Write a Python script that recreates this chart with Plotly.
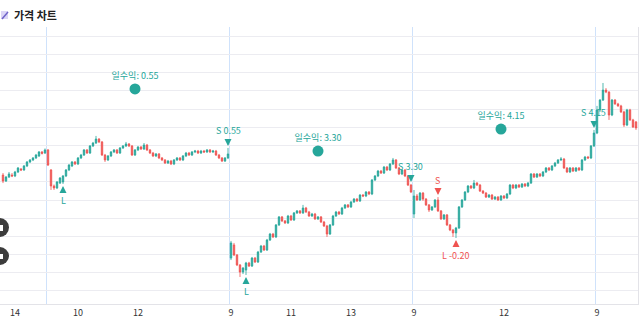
import plotly.graph_objects as go

# ---- price data (6-minute bars, five trading sessions) ----
session_bars = [15, 61, 61, 61, 14]
session_first_minute = [13 * 60 + 36, 9 * 60, 9 * 60, 9 * 60, 9 * 60]
bar_minutes = 6
tick_hours = [[14], [10, 12], [9, 11, 13], [9, 12], [9]]

opens = [
    73.7, 70.4, 72.6, 73.7, 73.2, 75.4, 77.0, 76.5, 78.7, 80.9, 82.0, 83.1, 84.2, 86.4, 85.8,
    87.5, 76.5, 67.7, 66.6, 69.3, 69.9, 73.2, 76.5, 78.7, 80.9,
    79.8, 83.1, 84.7, 87.5, 85.8, 89.7, 91.3, 93.5, 91.9, 84.7,
    82.0, 84.2, 86.4, 87.5, 85.8, 88.6, 89.7, 90.8, 89.7, 84.7,
    87.5, 89.1, 88.0, 90.2, 87.5, 85.8, 84.2, 85.3, 83.1, 82.0,
    80.3, 81.4, 79.8, 82.0, 83.1, 82.0, 84.2, 85.8, 84.7, 86.4,
    86.9, 85.8, 86.9, 86.4, 87.5, 86.4, 86.9, 84.7, 83.1, 81.4,
    83.1,
    28.1, 35.3, 29.8, 24.3, 20.4, 21.5, 25.4, 23.7, 28.1, 25.9,
    31.4, 34.7, 32.5, 38.0, 41.3, 39.7, 46.3, 50.7, 48.5, 47.4,
    51.2, 49.0, 52.9, 54.0, 52.9, 55.6, 53.4, 51.2, 52.3, 49.6,
    50.7, 47.9, 45.7, 41.3, 46.3, 51.2, 53.4, 52.3, 55.6, 57.3,
    56.2, 58.9, 60.5, 59.5, 62.7, 62.2, 64.4, 63.3, 71.0, 73.2,
    75.9, 74.8, 78.1, 76.5, 79.8, 82.0, 77.6, 74.3, 76.5, 73.2,
    68.2,
    52.3, 62.2, 60.0, 63.8, 60.5, 57.3, 54.5, 56.2, 60.0, 54.0,
    49.6, 51.8, 46.3, 43.5, 41.9, 44.6, 56.2, 60.0, 64.4, 67.7,
    66.6, 69.3, 68.2, 64.9, 63.8, 61.6, 62.7, 60.5, 61.6, 60.0,
    62.2, 61.1, 63.3, 68.2, 66.6, 68.2, 67.1, 68.8, 67.7, 69.3,
    74.3, 72.6, 74.3, 73.2, 75.4, 77.6, 76.5, 78.7, 80.3, 82.0,
    82.5, 77.6, 75.4, 77.6, 75.9, 77.6, 76.5, 82.0, 83.6, 83.1,
    89.7,
    96.8, 109.5, 114.9, 120.4, 119.3, 106.7, 114.9, 112.8, 111.7, 108.4, 101.2, 109.5, 104.0, 102.9,
]

highs = [
    74.8, 73.2, 75.4, 74.8, 76.0, 78.1, 77.6, 79.2, 81.4, 82.5, 83.6, 85.3, 86.9, 86.9, 88.3,
    88.0, 77.0, 68.5, 70.4, 72.6, 73.7, 77.0, 79.8, 81.4, 81.4,
    83.6, 85.3, 88.0, 88.0, 90.2, 91.9, 95.2, 94.0, 92.4, 85.3,
    84.7, 86.9, 88.0, 88.0, 89.1, 90.2, 91.9, 91.3, 90.2, 88.0,
    89.7, 89.7, 91.3, 90.8, 88.0, 86.4, 85.8, 85.8, 83.6, 82.5,
    82.0, 82.0, 82.5, 83.6, 83.6, 84.7, 86.4, 86.4, 86.9, 87.5,
    87.5, 87.5, 87.5, 88.0, 88.0, 87.5, 87.5, 85.3, 83.6, 83.6,
    88.6,
    37.5, 36.4, 30.3, 24.8, 23.2, 26.0, 26.0, 28.7, 28.7, 32.0,
    35.3, 35.3, 38.6, 41.9, 41.9, 46.8, 51.2, 51.2, 49.0, 51.8,
    51.8, 53.4, 54.5, 54.5, 57.3, 56.2, 54.0, 52.9, 52.9, 51.2,
    51.2, 48.5, 46.3, 46.8, 51.8, 54.0, 54.0, 56.2, 57.8, 57.8,
    59.5, 61.1, 61.1, 63.3, 63.3, 64.9, 64.9, 71.5, 73.7, 76.5,
    76.5, 78.7, 78.7, 80.3, 83.1, 82.5, 78.1, 77.0, 77.0, 73.7,
    68.8,
    65.5, 63.3, 64.4, 64.4, 61.1, 57.8, 56.7, 60.5, 61.6, 54.5,
    52.3, 52.3, 46.8, 44.1, 45.2, 56.7, 60.5, 64.9, 68.2, 68.2,
    71.0, 69.9, 68.8, 65.5, 64.4, 63.3, 63.3, 62.2, 62.2, 62.7,
    62.7, 63.8, 68.8, 68.8, 68.8, 68.8, 69.3, 69.3, 69.9, 74.8,
    74.8, 74.8, 74.8, 75.9, 78.1, 78.1, 79.2, 80.9, 82.5, 83.6,
    83.1, 78.1, 78.1, 78.1, 78.1, 78.1, 82.5, 84.2, 84.2, 90.2,
    98.5,
    111.7, 115.5, 124.3, 121.5, 119.8, 115.5, 115.5, 113.4, 112.3, 109.0, 110.1, 110.1, 104.6, 103.4,
]

lows = [
    69.3, 69.9, 72.1, 72.6, 72.6, 74.8, 75.9, 76.0, 78.1, 80.3, 81.4, 82.5, 83.6, 85.0, 85.3,
    78.7, 65.5, 65.5, 66.0, 68.8, 68.8, 72.6, 75.9, 78.1, 79.2,
    79.2, 82.5, 84.2, 85.3, 85.3, 89.1, 90.8, 91.3, 84.2, 80.9,
    81.4, 83.6, 85.8, 85.3, 85.3, 88.0, 89.1, 89.1, 84.2, 84.2,
    86.9, 87.5, 87.5, 86.9, 85.3, 83.6, 83.6, 82.5, 81.4, 79.8,
    79.8, 79.2, 79.2, 81.4, 81.4, 81.4, 83.6, 84.2, 84.2, 85.8,
    85.3, 85.3, 85.8, 85.8, 85.8, 85.8, 84.2, 82.5, 80.9, 80.9,
    82.5,
    27.0, 29.2, 23.7, 17.7, 19.3, 18.8, 23.2, 23.2, 25.4, 25.4,
    30.9, 32.0, 32.0, 37.5, 39.1, 39.1, 45.7, 47.9, 46.8, 46.8,
    48.5, 48.5, 52.3, 52.3, 52.3, 52.9, 50.7, 50.7, 49.0, 49.0,
    47.4, 45.2, 39.7, 40.8, 45.7, 50.7, 51.8, 51.8, 55.1, 55.6,
    55.6, 58.4, 58.9, 58.9, 61.6, 61.6, 62.7, 62.7, 70.4, 72.6,
    74.3, 74.3, 75.9, 75.9, 79.2, 77.0, 73.7, 73.7, 72.6, 67.7,
    63.8,
    50.1, 59.5, 59.5, 59.5, 56.7, 53.4, 54.0, 55.6, 53.4, 49.0,
    49.0, 45.7, 42.9, 39.7, 39.1, 44.1, 55.6, 59.5, 63.8, 66.0,
    66.0, 67.7, 64.4, 63.3, 61.1, 61.1, 60.0, 60.0, 59.5, 59.5,
    60.5, 60.5, 62.7, 66.0, 66.0, 66.6, 66.6, 67.1, 67.1, 68.8,
    72.1, 72.1, 72.6, 72.6, 74.8, 75.9, 75.9, 78.1, 79.8, 81.4,
    77.0, 74.8, 74.8, 75.4, 75.4, 75.9, 75.9, 81.4, 82.5, 82.5,
    89.1,
    96.2, 108.4, 114.4, 118.7, 104.0, 106.1, 112.3, 111.2, 107.8, 100.1, 100.6, 103.4, 99.6, 98.5,
]

closes = [
    70.4, 72.6, 74.3, 73.2, 75.4, 77.6, 76.5, 78.7, 80.9, 82.0, 83.1, 84.7, 86.4, 85.6, 87.5,
    79.2, 67.7, 66.6, 69.9, 72.1, 73.2, 76.5, 79.2, 80.9, 79.8,
    83.1, 84.7, 87.5, 85.8, 89.7, 91.3, 93.5, 91.9, 84.7, 82.0,
    84.2, 86.4, 87.5, 85.8, 88.6, 89.7, 90.8, 89.7, 84.7, 87.5,
    89.1, 88.0, 90.2, 87.5, 85.8, 84.2, 85.3, 83.1, 82.0, 80.3,
    81.4, 79.8, 82.0, 83.1, 82.0, 84.2, 85.8, 84.7, 86.4, 86.9,
    85.8, 86.9, 86.4, 87.5, 86.4, 86.9, 84.7, 83.1, 81.4, 83.1,
    85.3,
    36.4, 29.8, 24.3, 20.4, 22.6, 25.4, 23.7, 28.1, 25.9, 31.4,
    34.7, 32.5, 38.0, 41.3, 39.7, 46.3, 50.7, 48.5, 47.4, 51.2,
    49.0, 52.9, 54.0, 52.9, 55.6, 53.4, 51.2, 52.3, 49.6, 50.7,
    47.9, 45.7, 41.3, 46.3, 51.2, 53.4, 52.3, 55.6, 57.3, 56.2,
    58.9, 60.5, 59.5, 62.7, 62.2, 64.4, 63.3, 71.0, 73.2, 75.9,
    74.8, 78.1, 76.5, 79.8, 82.0, 77.6, 74.3, 76.5, 73.2, 68.2,
    64.4,
    62.2, 60.0, 63.8, 60.5, 57.3, 54.5, 56.2, 60.0, 54.0, 49.6,
    51.8, 46.3, 43.5, 41.9, 44.6, 56.2, 60.0, 64.4, 67.7, 66.6,
    69.3, 68.2, 64.9, 63.8, 61.6, 62.7, 60.5, 61.6, 60.0, 62.2,
    61.1, 63.3, 68.2, 66.6, 68.2, 67.1, 68.8, 67.7, 69.3, 74.3,
    72.6, 74.3, 73.2, 75.4, 77.6, 76.5, 78.7, 80.3, 82.0, 82.5,
    77.6, 75.4, 77.6, 75.9, 77.6, 76.5, 82.0, 83.6, 83.1, 89.7,
    96.8,
    109.5, 114.9, 120.4, 119.3, 106.7, 114.9, 112.8, 111.7, 108.4, 101.2, 109.5, 104.0, 100.1, 99.6,
]

# ---- trade signals ----
signal_bars = [20, 75, 81, 136, 145, 151, 197]
signal_sides = ["L", "S", "L", "S", "S", "L", "S"]
signal_exit_pnl = [None, 0.55, None, 3.30, None, -0.20, 4.15]
signal_trade_pnl = [0.55, 0.55, 3.30, 3.30, -0.20, -0.20, 4.15]

# ---- daily profit markers (sessions 1..3) ----
daily_sessions = [1, 2, 3]
daily_pnl = [0.55, 3.30, 4.15]
daily_marker_price = [121.0, 86.9, 99.0]

UP = "#26a69a"
DOWN = "#ef5350"
FONT = "Noto Sans CJK KR, Noto Sans, sans-serif"

# bar index / session layout
x = list(range(len(closes)))
session_start = []
bar_minute = []
pos = 0
for n, first in zip(session_bars, session_first_minute):
    session_start.append(pos)
    bar_minute.extend(first + bar_minutes * k for k in range(n))
    pos += n

tick_vals, tick_text = [], []
for s, hours in enumerate(tick_hours):
    for h in hours:
        for k in range(session_bars[s]):
            i = session_start[s] + k
            if bar_minute[i] == h * 60:
                tick_vals.append(i)
                tick_text.append(str(h))
                break

fig = go.Figure()
fig.add_trace(go.Candlestick(
    x=x, open=opens, high=highs, low=lows, close=closes,
    increasing=dict(line=dict(color=UP, width=0.8), fillcolor=UP),
    decreasing=dict(line=dict(color=DOWN, width=0.8), fillcolor=DOWN),
    whiskerwidth=0, showlegend=False, hoverinfo="skip",
))

# daily profit dots with labels
fig.add_trace(go.Scatter(
    x=[session_start[s] + 29 for s in daily_sessions],
    y=daily_marker_price,
    mode="markers+text",
    marker=dict(color=UP, size=11),
    text=[f"일수익: {p:.2f}" for p in daily_pnl],
    textposition="top center",
    textfont=dict(color=UP, size=9, family=FONT),
    showlegend=False, hoverinfo="skip",
))

annotations = []
for b, side, pnl, tpnl in zip(signal_bars, signal_sides, signal_exit_pnl, signal_trade_pnl):
    color = UP if tpnl >= 0 else DOWN
    label = side if pnl is None else f"{side} {pnl:.2f}"
    if side == "L":
        yv, ay = lows[b], 17
    else:
        yv, ay = highs[b], -17
    annotations.append(dict(
        x=b, y=yv, xref="x", yref="y", text=label, showarrow=True,
        ax=0, ay=ay, arrowhead=2, arrowsize=0.7, arrowwidth=2,
        arrowcolor=color, standoff=2,
        font=dict(color=color, size=9, family=FONT),
    ))

# chart title
annotations.append(dict(
    x=0, y=1, xref="paper", yref="paper", xanchor="left", yanchor="middle",
    xshift=12, yshift=12, text="<b>가격 차트</b>", showarrow=False,
    font=dict(color="#222222", size=11, family=FONT),
))

shapes = []
# session separators
for s in range(1, len(session_bars)):
    shapes.append(dict(
        type="line", xref="x", yref="paper", x0=session_start[s] - 0.5,
        x1=session_start[s] - 0.5, y0=0, y1=1,
        line=dict(color="#cfe2fb", width=1), layer="below",
    ))
# title icon
shapes.append(dict(
    type="rect", xref="paper", yref="paper", xsizemode="pixel", ysizemode="pixel",
    xanchor=0, yanchor=1, x0=1, x1=8, y0=8, y1=16,
    fillcolor="#dcd6f7", line=dict(width=0),
))
shapes.append(dict(
    type="line", xref="paper", yref="paper", xsizemode="pixel", ysizemode="pixel",
    xanchor=0, yanchor=1, x0=2, x1=8, y0=8, y1=15,
    line=dict(color="#6f63c8", width=1.5),
))
# floating round buttons at the left edge
for y0, y1 in [(67, 86), (39, 57)]:
    shapes.append(dict(
        type="circle", xref="paper", yref="paper", xsizemode="pixel", ysizemode="pixel",
        xanchor=0, yanchor=0, x0=-10, x1=9, y0=y0, y1=y1,
        fillcolor="#3c3c3c", line=dict(width=0),
    ))
    shapes.append(dict(
        type="rect", xref="paper", yref="paper", xsizemode="pixel", ysizemode="pixel",
        xanchor=0, yanchor=0, x0=-2, x1=3, y0=y0 + 6, y1=y1 - 7,
        fillcolor="#ffffff", line=dict(width=0),
    ))

fig.update_layout(
    width=640, height=327,
    margin=dict(l=0, r=2, t=27, b=23),
    paper_bgcolor="white", plot_bgcolor="white",
    font=dict(family=FONT, color="#333333"),
    annotations=annotations, shapes=shapes,
    showlegend=False,
    xaxis=dict(
        range=[-1, 211.67], rangeslider=dict(visible=False),
        showgrid=False, zeroline=False,
        tickmode="array", tickvals=tick_vals, ticktext=tick_text,
        tickfont=dict(size=9, color="#333333"), ticks="",
        showline=True, linecolor="#e3e3e8", linewidth=1,
    ),
    yaxis=dict(
        range=[2.85, 155.06], tick0=0, dtick=10,
        showgrid=True, gridcolor="#ececf1", gridwidth=1,
        zeroline=False, showticklabels=False, side="right",
        showline=True, linecolor="#e3e3e8", linewidth=1,
    ),
)

fig.write_html("out.html")
